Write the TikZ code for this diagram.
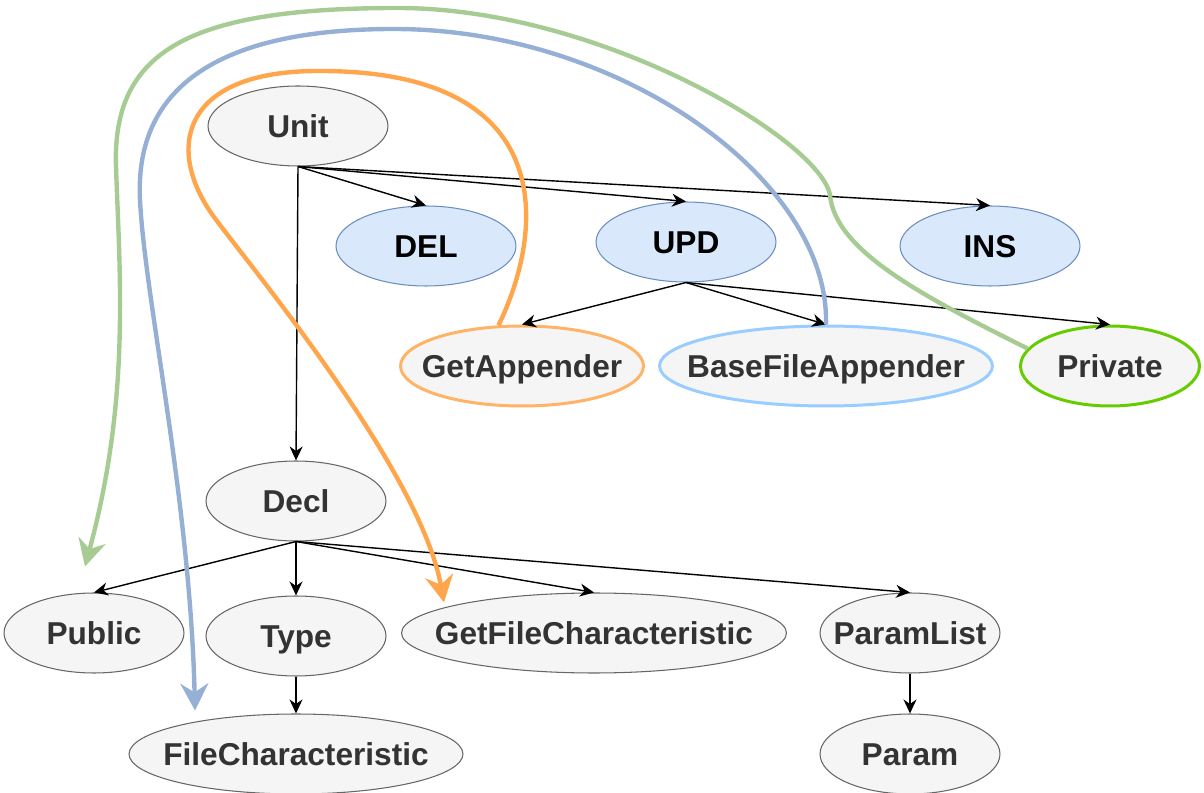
\documentclass[tikz,border=0pt]{standalone}
\usepackage{fontspec}
\setmainfont{Liberation Sans}
\usetikzlibrary{shapes.geometric,arrows.meta}
\definecolor{nodefill}{HTML}{F5F5F5}
\definecolor{nodeline}{HTML}{666666}
\definecolor{nodetext}{HTML}{333333}
\definecolor{opfill}{HTML}{DAE8FC}
\definecolor{opline}{HTML}{6C8EBF}
\definecolor{orangeflow}{HTML}{FFA64D}
\definecolor{blueflow}{HTML}{96AFD5}
\definecolor{greenflow}{HTML}{A7CC93}
\definecolor{orangering}{HTML}{FFB366}
\definecolor{bluering}{HTML}{99CCFF}
\definecolor{greenring}{HTML}{66CC00}
\newcommand{\lbl}[1]{\makebox[0pt]{#1}}
\begin{document}
\begin{tikzpicture}[x=0.02cm,y=-0.02cm,
  every node/.style={ellipse,inner sep=0pt,minimum width=3.6cm,minimum height=1.6cm,text height=12.9pt,text depth=0pt,font=\fontsize{18}{20}\selectfont\bfseries},
  plain/.style={draw=nodeline,fill=nodefill,text=nodetext,line width=0.6pt},
  op/.style={draw=opline,fill=opfill,text=black,line width=0.6pt},
  ring/.style={draw=#1,fill=nodefill,text=nodetext,line width=1.7pt},
  edge/.style={draw=black,line width=0.8pt,-{Stealth[length=2.8mm,width=2.6mm,inset=0.9mm]}},
  flow/.style={draw=#1,line width=2.5pt,-{Stealth[length=5.4mm,width=5.6mm,inset=1.8mm,fill=#1]}}]
\useasboundingbox (0,0) rectangle (1204,793);
\node[plain] (unit) at (298,126) {\lbl{Unit}};
\node[op] (del) at (426,246) {\lbl{DEL}};
\node[op] (upd) at (686,242) {\lbl{UPD}};
\node[op] (ins) at (990,246) {\lbl{INS}};
\node[ring=orangering,minimum width=4.86cm] (getapp) at (522,366) {\lbl{GetAppender}};
\node[ring=bluering,minimum width=6.66cm] (basefa) at (826,366) {\lbl{BaseFileAppender}};
\node[ring=greenring,minimum width=3.58cm] (private) at (1110,366) {\lbl{Private}};
\node[plain] (decl) at (296,501) {\lbl{Decl}};
\node[plain] (public) at (94,633) {\lbl{Public}};
\node[plain] (type) at (296,636) {\lbl{Type}};
\node[plain,minimum width=7.7cm] (getfc) at (594,633) {\lbl{GetFileCharacteristic}};
\node[plain] (plist) at (910,633) {\lbl{ParamList}};
\node[plain,minimum width=6.68cm] (filechar) at (296,754) {\lbl{FileCharacteristic}};
\node[plain] (param) at (910,754) {\lbl{Param}};
\draw[edge] (unit.south) -- (del.north);
\draw[edge] (unit.south) -- (upd.north);
\draw[edge] (unit.south) -- (ins.north);
\draw[edge] (unit.south) -- (decl.north);
\draw[edge] (upd.south) -- (getapp.north);
\draw[edge] (upd.south) -- (basefa.north);
\draw[edge] (upd.south) -- (private.north);
\draw[edge] (decl.south) -- (public.north);
\draw[edge] (decl.south) -- (type.north);
\draw[edge] (decl.south) -- (getfc.north);
\draw[edge] (decl.south) -- (plist.north);
\draw[edge] (type.south) -- (filechar.north);
\draw[edge] (plist.south) -- (param.north);
\draw[flow=orangeflow] (getapp.120) .. controls (545,230) and (560,70) .. (318,71)
  .. controls (180,71) and (165,150) .. (214,217)
  .. controls (250,266) and (420,470) .. ([shift={(-150,10)}]getfc.north);
\draw[flow=blueflow] (basefa.north) .. controls (830,180) and (620,29) .. (394,29)
  .. controls (200,29) and (135,100) .. (140,200)
  .. controls (145,300) and (190,500) .. ([shift={(-101,-3)}]filechar.north);
\draw[flow=greenflow] (private.168) .. controls (920,295) and (835,250) .. (830,195)
  .. controls (820,140) and (600,8) .. (398,8)
  .. controls (190,8) and (112,50) .. (116,167)
  .. controls (120,280) and (130,400) .. ([shift={(-9,-26)}]public.north);
\end{tikzpicture}
\end{document}
